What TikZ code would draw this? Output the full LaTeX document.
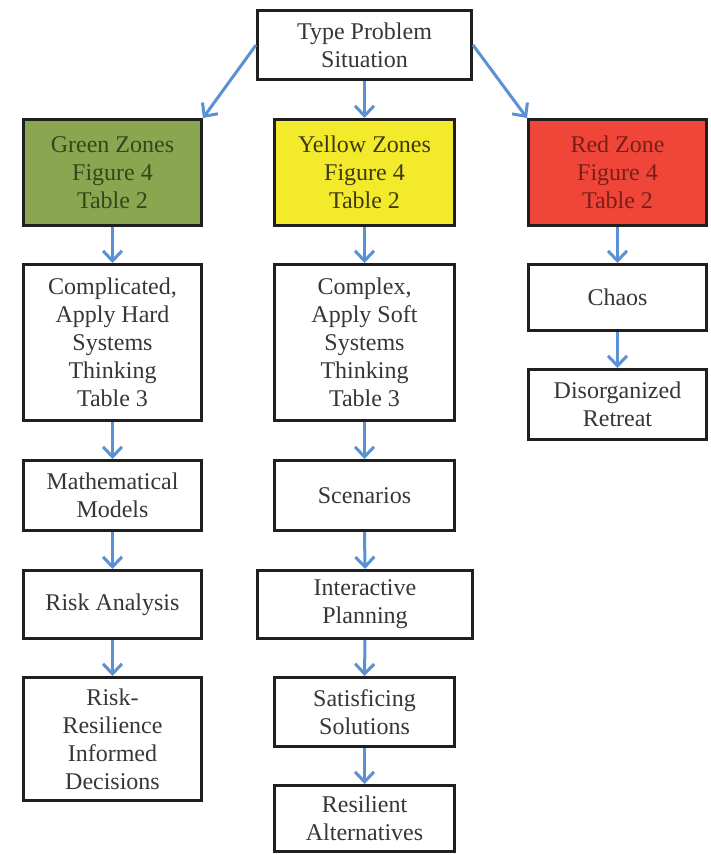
\documentclass[tikz,border=0pt]{standalone}
\usepackage{fontspec}
\setmainfont{Liberation Serif}
\usetikzlibrary{arrows.meta}
\definecolor{zonegreen}{HTML}{8AA651}
\definecolor{zoneyellow}{HTML}{F4EA2C}
\definecolor{zonered}{HTML}{EF4639}
\definecolor{greentext}{HTML}{30491A}
\definecolor{yellowtext}{HTML}{3E3A0E}
\definecolor{redtext}{HTML}{7A1F18}
\definecolor{bodytext}{HTML}{363636}
\definecolor{flowblue}{HTML}{5B90D2}
\begin{document}
\begin{tikzpicture}[x=1pt,y=-1pt,
  box/.style={draw=black!88, line width=3pt, fill=white, inner sep=0pt,
    align=center, text=bodytext, font=\fontsize{24}{28}\selectfont},
  flow/.style={draw=flowblue, line width=3pt,
    -{Straight Barb[length=10pt,width=19pt,line width=3pt]}}]
\useasboundingbox (0,0) rectangle (711,855);

% top of the tree
\node[box, minimum width=214pt, minimum height=69pt] (top) at (364.5,45) {Type Problem\\Situation};

% the three zones
\node[box, fill=zonegreen, text=greentext, minimum width=178pt, minimum height=106pt] (green) at (112.5,172.5) {Green Zones\\Figure 4\\Table 2};
\node[box, fill=zoneyellow, text=yellowtext, minimum width=180pt, minimum height=106pt] (yellow) at (364.5,172.5) {Yellow Zones\\Figure 4\\Table 2};
\node[box, fill=zonered, text=redtext, minimum width=178pt, minimum height=106pt] (red) at (617.5,172.5) {Red Zone\\Figure 4\\Table 2};

% green branch
\node[box, minimum width=178pt, minimum height=156pt] (compl) at (112.5,342.5) {Complicated,\\Apply Hard\\Systems\\Thinking\\Table 3};
\node[box, minimum width=178pt, minimum height=70pt] (math) at (112.5,495.5) {Mathematical\\Models};
\node[box, minimum width=178pt, minimum height=68pt] (risk) at (112.5,604.5) {Risk Analysis};
\node[box, minimum width=178pt, minimum height=123pt] (riskres) at (112.5,739) {Risk-\\Resilience\\Informed\\Decisions};

% yellow branch
\node[box, minimum width=180pt, minimum height=156pt] (complex) at (364.5,342.5) {Complex,\\Apply Soft\\Systems\\Thinking\\Table 3};
\node[box, minimum width=180pt, minimum height=70pt] (scen) at (364.5,495.5) {Scenarios};
\node[box, minimum width=215pt, minimum height=68pt] (inter) at (365,604.5) {Interactive\\Planning};
\node[box, minimum width=180pt, minimum height=69pt] (satis) at (364.5,712) {Satisficing\\Solutions};
\node[box, minimum width=180pt, minimum height=66pt] (resil) at (364.5,818.5) {Resilient\\Alternatives};

% red branch
\node[box, minimum width=178pt, minimum height=66pt] (chaos) at (617.5,297.5) {Chaos};
\node[box, minimum width=178pt, minimum height=70pt] (disorg) at (617.5,404.5) {Disorganized\\Retreat};

% connectors
\draw[flow] (top.west) -- (green.north east);
\draw[flow] (top.south) -- (yellow.north);
\draw[flow] (top.east) -- (red.north west);

\draw[flow] (green.south) -- (compl.north);
\draw[flow] (compl.south) -- (math.north);
\draw[flow] (math.south) -- (risk.north);
\draw[flow] (risk.south) -- (riskres.north);

\draw[flow] (yellow.south) -- (complex.north);
\draw[flow] (complex.south) -- (scen.north);
\draw[flow] (scen.south) -- (inter.north);
\draw[flow] (inter.south) -- (satis.north);
\draw[flow] (satis.south) -- (resil.north);

\draw[flow] (red.south) -- (chaos.north);
\draw[flow] (chaos.south) -- (disorg.north);
\end{tikzpicture}
\end{document}
